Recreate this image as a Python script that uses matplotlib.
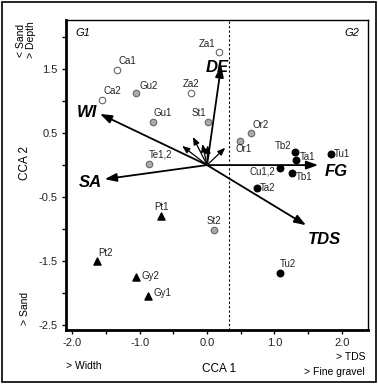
import matplotlib
matplotlib.use("Agg")
import matplotlib.pyplot as plt
from matplotlib.patches import Rectangle

plt.rcParams['font.family'] = ['Liberation Sans', 'DejaVu Sans']

# Site scores
open_names = ["Ca1", "Ca2", "Za1", "Za2"]
open_x = [-1.34, -1.56, 0.18, -0.24]
open_y = [1.48, 1.02, 1.77, 1.12]

grey_names = ["Gu2", "Gu1", "Te1,2", "St1", "St2", "Or1", "Or2"]
grey_x = [-1.05, -0.80, -0.86, 0.01, 0.10, 0.49, 0.65]
grey_y = [1.12, 0.67, 0.02, 0.67, -1.02, 0.37, 0.50]

black_names = ["Tb2", "Ta1", "Tu1", "Cu1,2", "Tb1", "Ta2", "Tu2"]
black_x = [1.31, 1.32, 1.84, 1.08, 1.26, 0.74, 1.08]
black_y = [0.20, 0.08, 0.17, -0.05, -0.12, -0.36, -1.69]

tri_names = ["Pt1", "Pt2", "Gy2", "Gy1"]
tri_x = [-0.68, -1.63, -1.06, -0.88]
tri_y = [-0.80, -1.50, -1.75, -2.05]

# Environmental vectors
vec_names = ["DE", "WI", "SA", "FG", "TDS"]
vec_x = [0.21, -1.59, -1.52, 1.65, 1.47]
vec_y = [1.56, 0.80, -0.22, 0.00, -0.94]
vec_label_x = [0.15, -1.78, -1.74, 1.92, 1.75]
vec_label_y = [1.52, 0.83, -0.28, -0.10, -1.16]

# Minor vectors (unlabelled)
minor_x = [-0.37, -0.21, -0.07, 0.01, 0.27]
minor_y = [0.30, 0.44, 0.33, 0.31, 0.27]

x_ticks = [-2.0, -1.0, 0.0, 1.0, 2.0]
y_ticks = [1.5, 0.5, -0.5, -1.5, -2.5]

fig = plt.figure(figsize=(3.78, 3.84), dpi=100)
ax = fig.add_axes([0.1746, 0.1406, 0.7989, 0.8074])
ax.set_xlim(-2.095, 2.39)
ax.set_ylim(-2.58, 2.27)

ax.axvline(0.33, color='black', linestyle=(0, (2, 2)), linewidth=0.8, zorder=1)

# vectors
for x, y in zip(vec_x, vec_y):
    ax.annotate("", xy=(x, y), xytext=(0, 0),
                arrowprops=dict(arrowstyle="-|>,head_length=0.7,head_width=0.25",
                                color='black', lw=1.3, shrinkA=0, shrinkB=0), zorder=3)
for name, x, y in zip(vec_names, vec_label_x, vec_label_y):
    ax.text(x, y, name, fontsize=12, fontweight='bold', fontstyle='italic',
            ha='center', va='center', zorder=4)
for x, y in zip(minor_x, minor_y):
    ax.annotate("", xy=(x, y), xytext=(0, 0),
                arrowprops=dict(arrowstyle="-|>,head_length=0.45,head_width=0.18",
                                color='black', lw=0.9, shrinkA=0, shrinkB=0), zorder=3)

ms = 22
ax.scatter(open_x, open_y, s=ms, facecolor='white', edgecolor='#666666', linewidth=0.8, zorder=5)
ax.scatter(grey_x, grey_y, s=ms, facecolor='#aaaaaa', edgecolor='#666666', linewidth=0.8, zorder=5)
ax.scatter(black_x, black_y, s=ms, facecolor='black', edgecolor='black', zorder=5)
ax.scatter(tri_x, tri_y, s=26, marker='^', facecolor='black', edgecolor='black', zorder=5)

# label offsets in points
offsets = {
    "Ca1": (1, 3, 'left', 'bottom'), "Ca2": (1, 3, 'left', 'bottom'),
    "Za1": (-3, 2, 'right', 'bottom'), "Za2": (0, 3, 'center', 'bottom'),
    "Gu2": (2, 2, 'left', 'bottom'), "Gu1": (0, 3, 'left', 'bottom'),
    "Te1,2": (0, 3, 'left', 'bottom'), "St1": (-1, 3, 'right', 'bottom'),
    "St2": (0, 3, 'center', 'bottom'), "Or1": (-3, -2, 'left', 'top'),
    "Or2": (1, 2, 'left', 'bottom'), "Tb2": (-3, 1, 'right', 'bottom'),
    "Ta1": (3, 2, 'left', 'center'), "Tu1": (2, 0, 'left', 'center'),
    "Cu1,2": (-3, -2, 'right', 'center'), "Tb1": (3, -3, 'left', 'center'),
    "Ta2": (2, 0, 'left', 'center'), "Tu2": (0, 3, 'left', 'bottom'),
    "Pt1": (0, 3, 'center', 'bottom'), "Pt2": (1, 2, 'left', 'bottom'),
    "Gy2": (4, 1, 'left', 'center'), "Gy1": (4, 2, 'left', 'center'),
}
for names, xs, ys in [(open_names, open_x, open_y), (grey_names, grey_x, grey_y),
                      (black_names, black_x, black_y), (tri_names, tri_x, tri_y)]:
    for n, x, y in zip(names, xs, ys):
        dx, dy, ha, va = offsets[n]
        ax.annotate(n, (x, y), xytext=(dx, dy), textcoords='offset points',
                    fontsize=7, ha=ha, va=va, color='#222222', zorder=6)

ax.text(0.03, 0.975, "G1", transform=ax.transAxes, fontsize=8, fontstyle='italic',
        ha='left', va='top')
ax.text(0.97, 0.975, "G2", transform=ax.transAxes, fontsize=8, fontstyle='italic',
        ha='right', va='top')

xt = [-2.0, -1.5, -1.0, -0.5, 0.0, 0.5, 1.0, 1.5, 2.0]
ax.set_xticks(xt)
ax.set_xticklabels([f"{v:.1f}" if v in x_ticks else "" for v in xt])
yt = [2.0, 1.5, 1.0, 0.5, 0.0, -0.5, -1.0, -1.5, -2.0, -2.5]
ax.set_yticks(yt)
ax.set_yticklabels([f"{v:.1f}" if v in y_ticks else "" for v in yt])
ax.tick_params(direction='out', length=3, width=1, labelsize=8, pad=3,
               labelcolor='#222222')
for s in ax.spines.values():
    s.set_linewidth(1.0)
ax.spines['left'].set_linewidth(2.0)
ax.spines['bottom'].set_linewidth(2.0)

fig.text(219/378, 1 - 369/384, "CCA 1", fontsize=8.5, ha='center', va='center')
fig.text(84/378, 1 - 366/384, "> Width", fontsize=7.5, ha='center', va='center')
fig.text(365/378, 1 - 357/384, "> TDS", fontsize=7.5, ha='right', va='center')
fig.text(365/378, 1 - 372/384, "> Fine gravel", fontsize=7.5, ha='right', va='center')
fig.text(25/378, 1 - 163/384, "CCA 2", fontsize=8.5, rotation=90, ha='center', va='center')
fig.text(26/378, 1 - 40/384, "< Sand\n> Depth", fontsize=7.5, rotation=90,
         ha='center', va='center', linespacing=1.1)
fig.text(25/378, 1 - 308/384, "> Sand", fontsize=7.5, rotation=90, ha='center', va='center')

fig.patches.append(Rectangle((0.004, 0.004), 0.992, 0.992, transform=fig.transFigure,
                             fill=False, edgecolor='black', linewidth=1.2))

fig.savefig("out.png", dpi=100)
